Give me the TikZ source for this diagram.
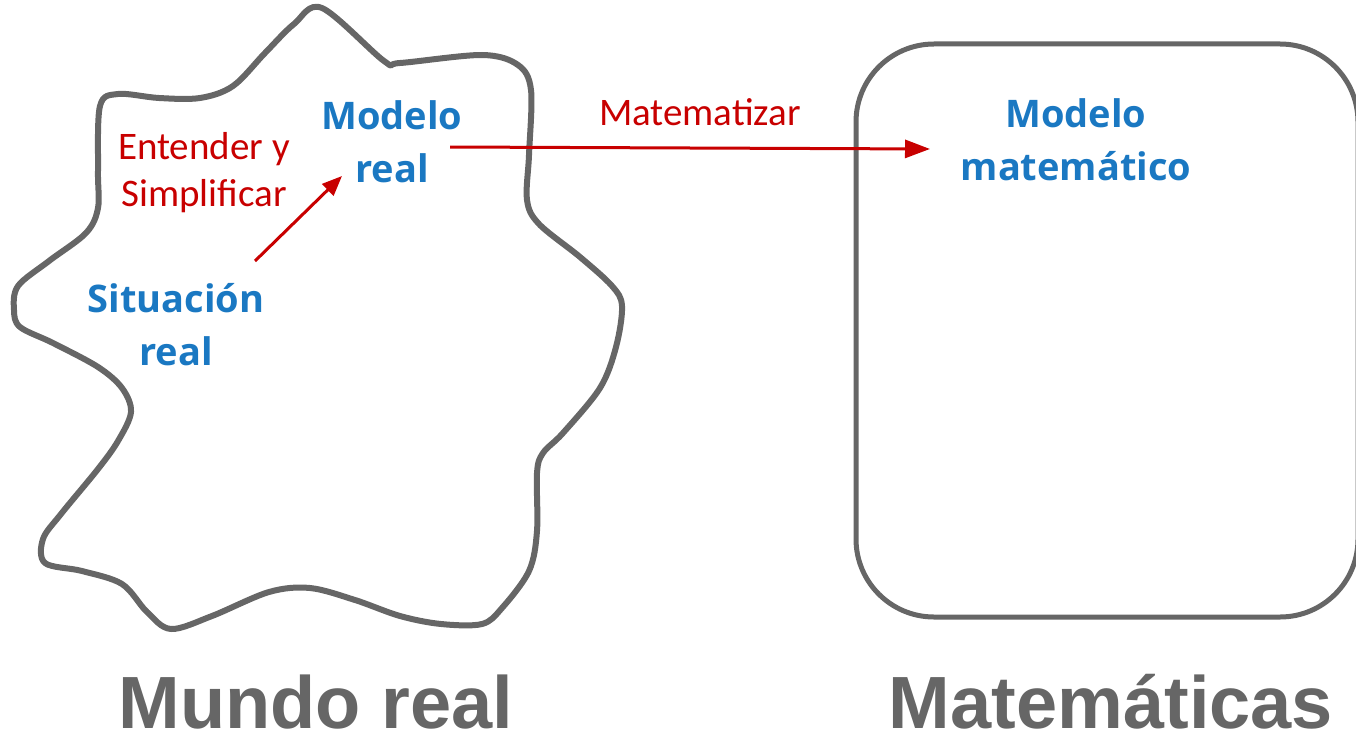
\documentclass[tikz,border=0pt]{standalone}
\usepackage{fontspec}
\setmainfont{Carlito}
\newfontfamily\labelfont{Open Sans}
\newfontfamily\titlefont{Liberation Sans}
\usetikzlibrary{arrows.meta}

\definecolor{edgegray}{HTML}{666666}
\definecolor{modelblue}{HTML}{1A78C2}
\definecolor{stepred}{HTML}{C80000}

\tikzset{
  outline/.style={draw=edgegray, line width=6pt, line join=round},
  bluelabel/.style={text=modelblue, align=center, inner sep=0pt, anchor=base,
    font=\labelfont\bfseries\fontsize{38}{53}\selectfont},
  redlabel/.style={text=stepred, align=center, inner sep=0pt, anchor=base,
    font=\fontsize{39}{47}\selectfont},
  titlelabel/.style={text=edgegray, inner sep=0pt, anchor=base,
    font=\titlefont\bfseries\fontsize{74}{84}\selectfont},
  redarrow/.style={draw=stepred, line width=3pt,
    -{Triangle[length=25pt,width=18pt]}},
}

\begin{document}
\begin{tikzpicture}[x=1pt, y=-1pt]
\useasboundingbox (0,0) rectangle (1356,733);

% the real world: a wavy closed outline
\draw[outline] plot[smooth cycle, tension=0.55] coordinates {
  (322,8) (384,61) (400,63) (482,55) (518,65) (531,90)
  (529,155) (527,200) (539,224) (580,257) (612,286) (622,306)
  (616,347) (600,388) (563,433) (543,453) (537,473) (537,531)
  (529,571) (502,608) (482,624) (441,624) (400,616) (355,600)
  (310,588) (269,592) (212,616) (171,629) (147,612) (122,584)
  (82,571) (45,563) (43,539) (61,514) (98,469) (118,441)
  (131,412) (122,388) (98,367) (53,343) (20,327) (14,310)
  (18,286) (49,261) (86,233) (98,208) (98,171) (100,106)
  (118,94) (159,98) (200,98) (233,86) (265,53) (294,24)};

% mathematics: a rounded frame
\draw[outline, line width=5pt, rounded corners=78pt] (856,44) rectangle (1358,617);

% labels (base anchor = baseline of the last line)
\node[bluelabel] (sit) at (176,365) {Situación\\real};
\node[bluelabel] (mreal) at (392,182) {Modelo\\real};
\node[bluelabel] (mmat) at (1076,180) {Modelo\\matemático};
\node[redlabel] (simp) at (204,206) {Entender y\\Simplificar};
\node[redlabel] (matz) at (700,125) {Matematizar};

\node[titlelabel] (world) at (316,728) {Mundo real};
\node[titlelabel] (maths) at (1111,728) {Matemáticas};

% steps between the models
\coordinate (s0) at (255,261);
\coordinate (s1) at (342,176);
\coordinate (m0) at (450,147);
\coordinate (m1) at (930,149);
\draw[redarrow, -{Triangle[length=20pt,width=16pt]}] (s0) -- (s1);
\draw[redarrow] (m0) -- (m1);
\end{tikzpicture}
\end{document}
